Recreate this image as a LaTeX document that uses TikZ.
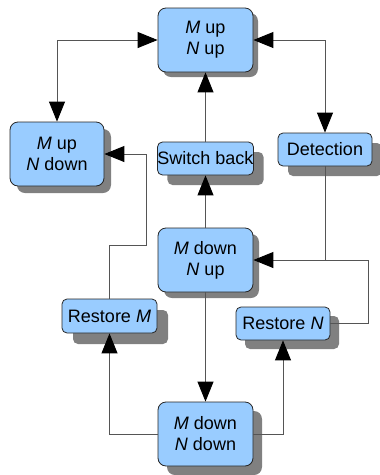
\documentclass[tikz,border=0pt]{standalone}
\usepackage{fontspec}
\setmainfont{Liberation Sans}
\usetikzlibrary{arrows.meta,shadows}
\definecolor{boxblue}{HTML}{99CCFF}
\definecolor{shadowgray}{HTML}{808080}
\definecolor{linegray}{HTML}{555555}
\begin{document}
\begin{tikzpicture}[x=1pt,y=-1pt,
 statebox/.style={draw=black!85, fill=boxblue, rounded corners=8pt, minimum width=95pt, minimum height=64pt, align=center, inner sep=0pt, font=\fontsize{18}{21}\selectfont, line width=0.8pt},
 smallbox/.style={statebox, rounded corners=5pt, minimum height=33pt},
 sh/.style={drop shadow={shadow xshift=#1, shadow yshift=-#1, fill=shadowgray, opacity=1}},
 tip/.tip={Triangle[length=20pt,width=16pt,color=black]},
 wire/.style={draw=linegray, line width=0.9pt},
 conn/.style={wire, -tip},
 both/.style={wire, tip-tip}]
\useasboundingbox (0,0) rectangle (380,475);
\node[statebox, sh=5pt] (mn) at (205.5,40) {\textit{M} up\\\textit{N} up};
\node[statebox, minimum width=94pt, sh=7pt] (md) at (57,154) {\textit{M} up\\\textit{N} down};
\node[smallbox, sh=10pt] (sb) at (205.5,158.5) {Switch back};
\node[smallbox, minimum width=94pt, sh=10pt] (det) at (325,149.5) {Detection};
\node[statebox, sh=6pt] (dn) at (205.5,260) {\textit{M} down\\\textit{N} up};
\node[smallbox, minimum height=34pt, sh=11pt] (rm) at (109.5,316) {Restore \textit{M}};
\node[smallbox, minimum width=94pt, sh=9pt] (rn) at (283,323.5) {Restore \textit{N}};
\node[statebox, sh=9pt] (dd) at (205.5,434) {\textit{M} down\\\textit{N} down};
\coordinate (rnc) at (368,260);
\coordinate (rmc) at (146,245);
\draw[both] (md.north) |- (mn.west);
\draw[both] (mn.east) -| (det.north);
\draw[conn] (sb.north) -- (mn.south);
\draw[conn] (dn.north) -- (sb.south);
\draw[conn] (det.south) |- (dn.east);
\draw[wire] (rn.east) -| (rnc) -- (det.south |- dn.east);
\draw[conn] (rm.north) |- (rmc) |- (md.east);
\draw[conn] (dn.south) -- (dd.north);
\draw[conn] (dd.west) -| (rm.south);
\draw[conn] (dd.east) -| (rn.south);
\end{tikzpicture}
\end{document}
